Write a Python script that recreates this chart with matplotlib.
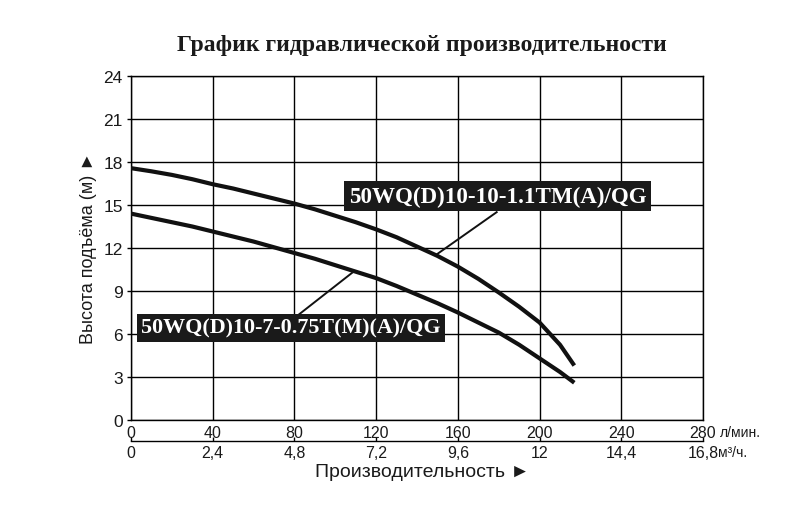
import matplotlib
matplotlib.use("Agg")
from matplotlib import pyplot as plt

# расход, л/мин
q_lmin = [0, 10, 20, 30, 40, 50, 60, 70, 80, 90, 100, 110, 120, 130, 140,
          150, 160, 170, 180, 190, 200, 210, 217]
# 50WQ(D)10-10-1.1TM(A)/QG, напор м
h_big = [17.57, 17.35, 17.1, 16.8, 16.45, 16.15, 15.8, 15.45, 15.1, 14.7, 14.25,
         13.8, 13.3, 12.75, 12.1, 11.45, 10.7, 9.85, 8.9, 7.9, 6.8, 5.25, 3.8]
# 50WQ(D)10-7-0.75T(M)(A)/QG, напор м
h_small = [14.4, 14.1, 13.8, 13.5, 13.15, 12.8, 12.45, 12.05, 11.65, 11.25, 10.8,
           10.35, 9.9, 9.35, 8.75, 8.15, 7.5, 6.8, 6.1, 5.25, 4.3, 3.35, 2.6]

x_ticks = [0, 40, 80, 120, 160, 200, 240, 280]
m3h_labels = ['0', '2,4', '4,8', '7,2', '9,6', '12', '14,4', '16,8']
y_ticks = [0, 3, 6, 9, 12, 15, 18, 21, 24]

name_big = '50WQ(D)10-10-1.1TM(A)/QG'
name_small = '50WQ(D)10-7-0.75T(M)(A)/QG'

sans = ['Liberation Sans', 'DejaVu Sans']
serif = ['Liberation Serif', 'DejaVu Serif']

fig = plt.figure(figsize=(8, 5.06), dpi=100)
ax = fig.add_axes([131/800, 1-421/506, 572/800, 344/506])

ax.set_xlim(0, 280)
ax.set_ylim(0, 24)
ax.set_xticks(x_ticks)
ax.set_yticks(y_ticks)
ax.grid(True, color='black', linewidth=1.0)
for s in ax.spines.values():
    s.set_linewidth(1.0)
ax.tick_params(axis='x', length=0, pad=3.5, labelsize=11.5, labelcolor='#1a1a1a')
ax.tick_params(axis='y', length=3, width=1, pad=3, labelsize=12.5, labelcolor='#1a1a1a')
for t in ax.get_xticklabels() + ax.get_yticklabels():
    t.set_family(sans)

ax.plot(q_lmin, h_big, color='#111111', lw=3.0, solid_capstyle='butt', zorder=3)
ax.plot(q_lmin, h_small, color='#111111', lw=3.0, solid_capstyle='butt', zorder=3)

# выноски
ax.plot([179, 149.6], [14.5, 11.55], color='#111111', lw=1.4, zorder=3)
ax.plot([81.1, 108.5], [7.24, 10.3], color='#111111', lw=1.4, zorder=3)

box = dict(boxstyle='square,pad=0.2', fc='#1a1a1a', ec='none')
ax.text(179.6, 15.63, name_big, color='white', fontsize=16.6, fontweight='bold',
        family=serif, ha='center', va='center', bbox=box, zorder=4)
ax.text(78.3, 6.42, name_small, color='white', fontsize=15.8, fontweight='bold',
        family=serif, ha='center', va='center', bbox=box, zorder=4)

# вторая шкала, м3/ч
sec = ax.secondary_xaxis(-0.06, functions=(lambda q: q * 0.06, lambda m: m / 0.06))
sec.set_xticks([v * 0.06 for v in x_ticks], labels=m3h_labels)
sec.tick_params(direction='in', length=3, width=1, pad=3, labelsize=11.5, labelcolor='#1a1a1a')
sec.spines['bottom'].set_linewidth(1.0)
for t in sec.get_xticklabels():
    t.set_family(sans)

ax.annotate('л/мин.', xy=(1, 0), xycoords='axes fraction', xytext=(12, -11.3),
            textcoords='offset points', ha='left', va='baseline', fontsize=10,
            family=sans, color='#1a1a1a')
ax.annotate('м³/ч.', xy=(1, 0), xycoords='axes fraction', xytext=(11, -25.7),
            textcoords='offset points', ha='left', va='baseline', fontsize=10,
            family=sans, color='#1a1a1a')

ax.set_xlabel('Производительность ►', fontsize=14, family=sans, color='#1a1a1a')
ax.xaxis.set_label_coords(0.51, -0.151)
ax.xaxis.label.set_va('center')
ax.set_ylabel('Высота подъёма (м) ►', fontsize=13, family=sans, color='#1a1a1a')
ax.yaxis.set_label_coords(-0.075, 0.504)
ax.yaxis.label.set_va('center')

fig.text(422/800, 1-51/506, 'График гидравлической производительности',
         fontsize=17, fontweight='bold', family=serif, ha='center', va='baseline',
         color='#1a1a1a')

fig.savefig('out.png', dpi=100)
